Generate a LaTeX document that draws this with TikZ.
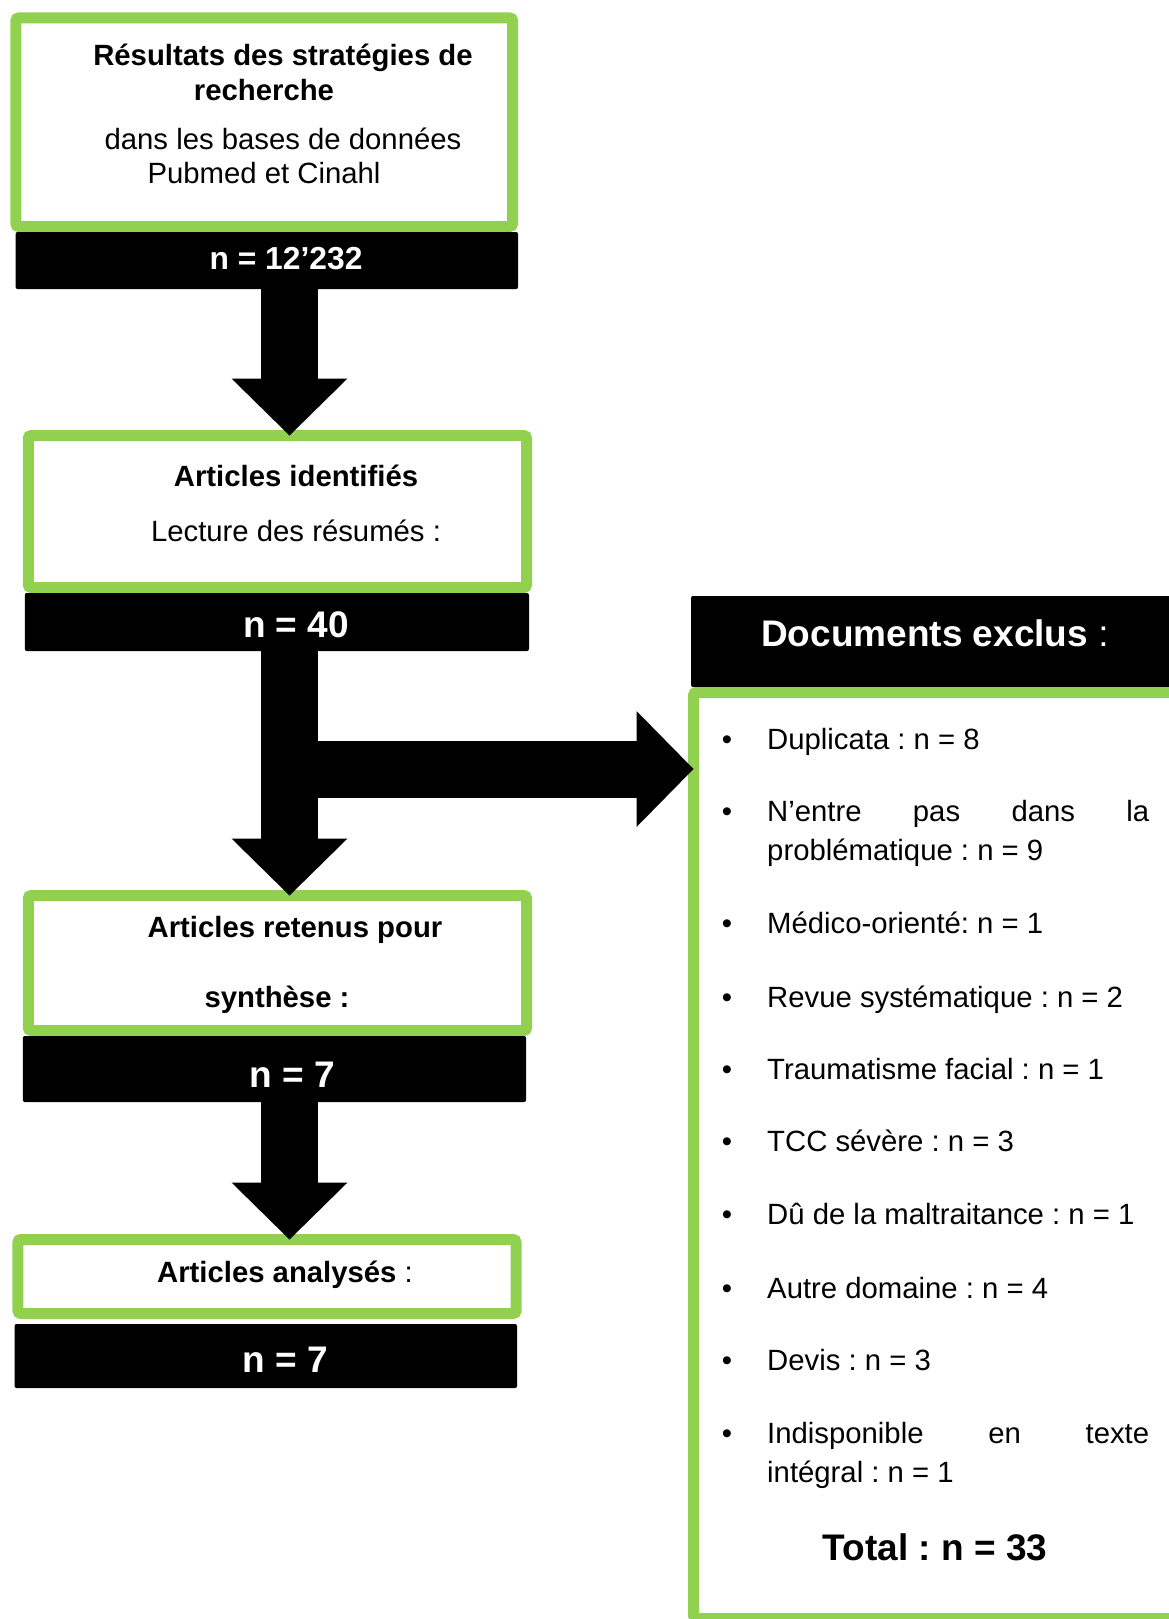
\documentclass[tikz,border=0pt]{standalone}
\usepackage{fontspec}
\setmainfont{Liberation Sans}
\usetikzlibrary{arrows.meta}
\definecolor{lgreen}{HTML}{92D050}
\frenchspacing
\tikzset{
 gbox/.style={draw=lgreen, line width=11pt, fill=white, rounded corners=3pt, inner sep=0pt, outer sep=0pt},
 bbar/.style={fill=black, rounded corners=2pt, inner sep=0pt, outer sep=0pt},
 txt/.style={inner sep=0pt, anchor=base, font=\fontsize{29.3}{34}\selectfont},
 btxt/.style={inner sep=0pt, anchor=base, font=\fontsize{29.3}{34}\selectfont\bfseries},
 ntxt/.style={inner sep=0pt, anchor=base, text=white, font=\fontsize{37}{42}\selectfont\bfseries},
 item/.style={inner sep=0pt, anchor=base west, font=\fontsize{29.3}{34}\selectfont},
 bul/.style={inner sep=0pt, anchor=base, font=\fontsize{29.3}{34}\selectfont},
 fat/.style={line width=57pt, -{Triangle[length=57pt,width=116pt,line width=0pt]}}
}
\begin{document}
\frenchspacing
\begin{tikzpicture}[x=1pt,y=-1pt]
\fill[white] (0,0) rectangle (1168,1619);
\useasboundingbox (0,0) rectangle (1168,1619);

% left column boxes
\node[gbox, minimum width=496.7pt, minimum height=208.6pt] (b1) at (264.2,122.2) {};
\node[bbar, minimum width=502.5pt, minimum height=57pt] (n1) at (266.8,260.5) {};
\node[gbox, minimum width=498.3pt, minimum height=152pt] (b2) at (277.4,511.5) {};
\node[bbar, minimum width=504.2pt, minimum height=58pt] (n2) at (276.9,622) {};
\node[gbox, minimum width=498.3pt, minimum height=135pt] (b3) at (277.4,963) {};
\node[bbar, minimum width=503.3pt, minimum height=66pt] (n3) at (274.4,1069) {};
\node[gbox, minimum width=498.1pt, minimum height=74pt] (b4) at (267,1276.5) {};
\node[bbar, minimum width=502.5pt, minimum height=64pt] (n4) at (265.8,1356) {};

% right column
\node[bbar, minimum width=499pt, minimum height=91pt] (hd) at (940.5,641.5) {};
\node[gbox, minimum width=496.5pt, minimum height=926pt] (ex) at (941.75,1155.5) {};

% texts left
\node[btxt] (t1a) at (283,66) {Résultats des stratégies de};
\node[btxt] (t1b) at (264,100) {recherche};
\node[txt] (t1c) at (283,149) {dans les bases de données};
\node[txt] (t1d) at (264,183) {Pubmed et Cinahl};
\node[ntxt, font=\fontsize{31.8}{36}\selectfont\bfseries] (v1) at (286,269) {n = 12’232};

\node[btxt] (t2a) at (296,486) {Articles identifiés};
\node[txt] (t2b) at (296,541) {Lecture des résumés :};
\node[ntxt] (v2) at (296,637) {n = 40};

\node[btxt] (t3a) at (295,937) {Articles retenus pour};
\node[btxt] (t3b) at (277,1007) {synthèse :};
\node[ntxt] (v3) at (292,1087) {n = 7};

\node[txt] (t4a) at (285,1282) {\textbf{Articles analysés} :};
\node[ntxt] (v4) at (285,1372) {n = 7};

% right texts
\node[ntxt] (hdt) at (935,646) {Documents exclus \mdseries:};

\foreach \y/\nm in {749/d1,821/d2,933/d3,1007/d4,1079/d5,1151/d6,1224/d7,1298/d8,1370/d9,1443/d10}
  \node[bul] (\nm) at (727,\y) {\textbullet};

\node[item] (i1) at (767,749) {Duplicata : n = 8};
\node[item] (i2) at (767,821) {\hbox to 382pt{N’entre\hfill pas\hfill dans\hfill la}};
\node[item] (i2b) at (767,860) {problématique : n = 9};
\node[item] (i3) at (767,933) {Médico-orienté: n = 1};
\node[item] (i4) at (767,1007) {Revue systématique : n = 2};
\node[item] (i5) at (767,1079) {Traumatisme facial : n = 1};
\node[item] (i6) at (767,1151) {TCC sévère : n = 3};
\node[item] (i7) at (767,1224) {Dû de la maltraitance : n = 1};
\node[item] (i8) at (767,1298) {Autre domaine : n = 4};
\node[item] (i9) at (767,1370) {Devis : n = 3};
\node[item] (i10) at (767,1443) {\hbox to 382pt{Indisponible\hfill en\hfill texte}};
\node[item] (i10b) at (767,1482) {intégral : n = 1};

\node[ntxt, text=black] (tot) at (935,1560) {Total : n = 33};

% block arrows
\coordinate (ax) at (289.5,0);
\coordinate (hy) at (0,769);
\draw[fat] (ax |- n1.south) -- (ax |- b2.north);
\draw[fat] (ax |- n2.south) -- (ax |- b3.north);
\draw[fat] (ax |- n3.south) -- (ax |- b4.north);
\draw[fat] (ax |- hy) -- (hy -| ex.west);
\end{tikzpicture}
\end{document}
